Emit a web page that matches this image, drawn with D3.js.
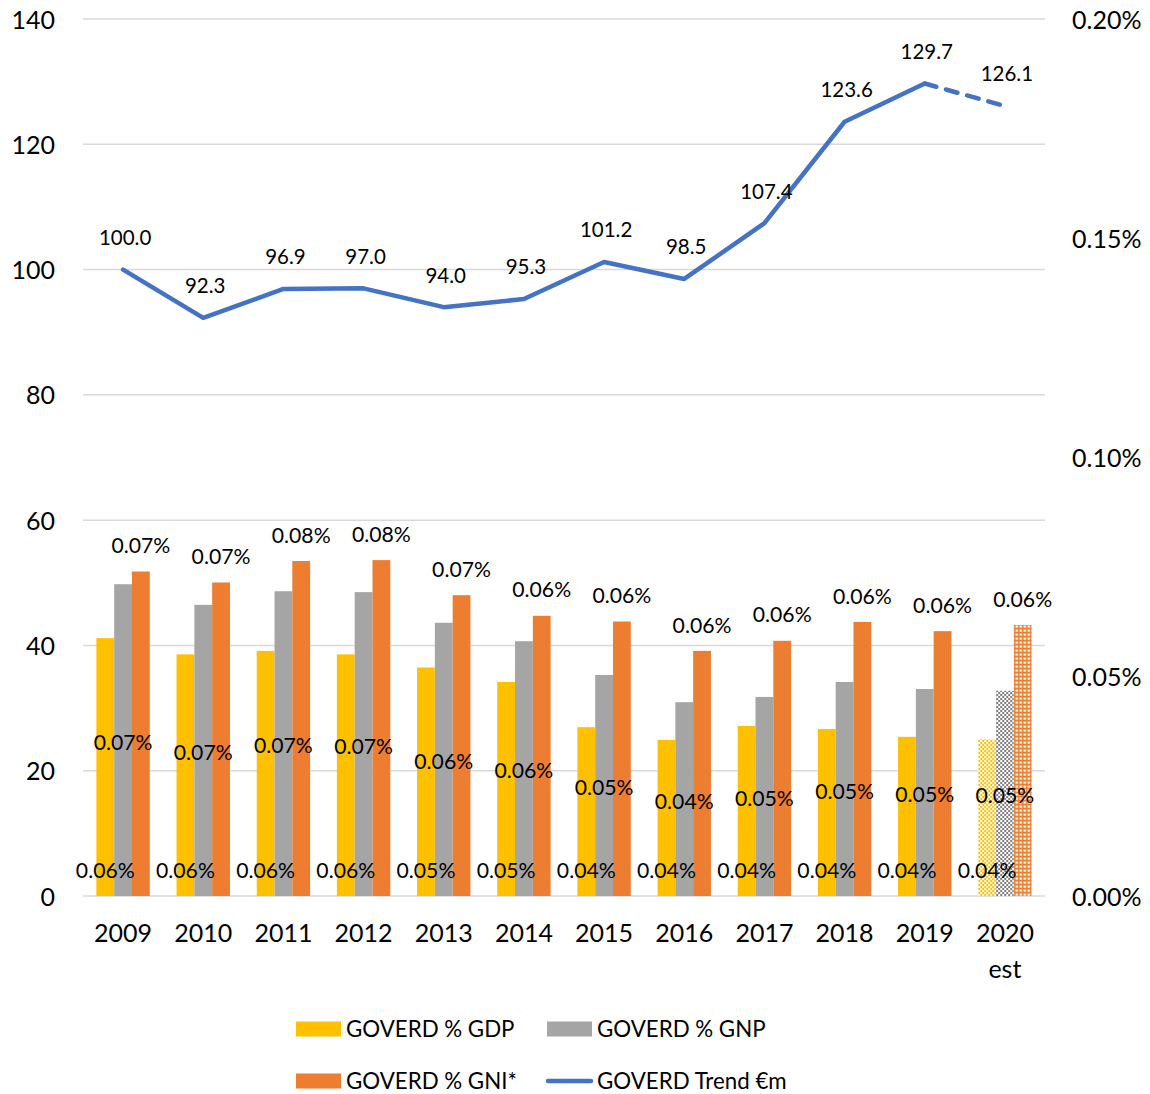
<!DOCTYPE html>
<html>
<head>
<meta charset="utf-8">
<script src="https://cdn.jsdelivr.net/npm/d3@7"></script>
<style>
  html, body { margin: 0; padding: 0; background: #fff; }
  svg { display: block; font-family: Lato, "Open Sans", sans-serif; }
</style>
</head>
<body>
<svg id="chart" width="1150" height="1094"></svg>
<script>
// ---- data ----
const categories = ["2009","2010","2011","2012","2013","2014","2015","2016","2017","2018","2019","2020 est"];
const gdpPct = [0.0588,0.0551,0.0559,0.0551,0.0521,0.0488,0.0385,0.0356,0.0388,0.0381,0.0363,0.0357];
const gnpPct = [0.0711,0.0664,0.0695,0.0693,0.0623,0.0581,0.0504,0.0442,0.0454,0.0488,0.0472,0.0468];
const gniPct = [0.0740,0.0715,0.0764,0.0766,0.0686,0.0639,0.0626,0.0559,0.0582,0.0625,0.0604,0.0618];
const trend  = [100.0,92.3,96.9,97.0,94.0,95.3,101.2,98.5,107.4,123.6,129.7,126.1];
const leftTicks  = [0,20,40,60,80,100,120,140];
const rightTicks = [0,0.05,0.10,0.15,0.20];
const seriesNames = ["GOVERD % GDP","GOVERD % GNP","GOVERD % GNI*"];
const seriesColors = ["#FFC000","#A5A5A5","#ED7D31"];
const lineName = "GOVERD Trend \u20ACm";
const lineColor = "#4472C4";
const estimateIndex = 11;

// ---- layout ----
const svg = d3.select("#chart");
const plot = {left: 83, right: 1045, top: 19, bottom: 896};
const FS_AXIS = 25, FS_LABEL = 21.2, FS_LINE = 20.5, FS_LEGEND = 22.3;

const x = d3.scaleBand().domain(categories).range([plot.left, plot.right])
  .paddingInner(0.334).paddingOuter(0.167);
const xs = d3.scaleBand().domain([0,1,2]).range([0, x.bandwidth()]);
const yL = d3.scaleLinear().domain([0,140]).range([plot.bottom, plot.top]);
const yR = d3.scaleLinear().domain([0,0.20]).range([plot.bottom, plot.top]);

// patterns for estimate bars
const defs = svg.append("defs");
function checker(id, color) {
  const p = defs.append("pattern").attr("id", id).attr("patternUnits","userSpaceOnUse")
    .attr("width",4).attr("height",4);
  p.append("rect").attr("width",4).attr("height",4).attr("fill","#fff");
  p.append("rect").attr("x",0).attr("y",0).attr("width",2).attr("height",2).attr("fill",color);
  p.append("rect").attr("x",2).attr("y",2).attr("width",2).attr("height",2).attr("fill",color);
}
checker("pat0", "#FFC000");
checker("pat1", "#7F7F7F");
(function(){
  const p = defs.append("pattern").attr("id","pat2").attr("patternUnits","userSpaceOnUse")
    .attr("width",4).attr("height",4);
  p.append("rect").attr("width",4).attr("height",4).attr("fill","#ED7D31");
  p.append("rect").attr("x",1.5).attr("y",1.5).attr("width",2.2).attr("height",2.2).attr("fill","#fff");
})();

// gridlines
svg.append("g").selectAll("line").data(leftTicks).join("line")
  .attr("x1", plot.left).attr("x2", plot.right)
  .attr("y1", d => yL(d)).attr("y2", d => yL(d))
  .attr("stroke", "#D9D9D9").attr("stroke-width", 1.5);

// axes
const axL = svg.append("g").attr("transform", `translate(55,0)`)
  .call(d3.axisLeft(yL).tickValues(leftTicks).tickSize(0).tickPadding(0));
const axR = svg.append("g").attr("transform", `translate(1072,0)`)
  .call(d3.axisRight(yR).tickValues(rightTicks).tickSize(0).tickPadding(0)
    .tickFormat(d => d.toFixed(2) + "%"));
const axB = svg.append("g").attr("transform", `translate(0,${plot.bottom})`)
  .call(d3.axisBottom(x).tickSize(0).tickPadding(0).tickFormat(() => ""));
[axL, axR, axB].forEach(a => {
  a.select(".domain").remove();
  a.selectAll("text").attr("font-size", FS_AXIS).attr("font-family", "Lato").attr("fill", "#000");
});
axL.selectAll("text").attr("dy", null).attr("y", FS_AXIS * 0.36);
axR.selectAll("text").attr("dy", null).attr("y", FS_AXIS * 0.36);
axB.selectAll(".tick text").each(function(d) {
  const parts = d.split(" ");
  const t = d3.select(this).attr("dy", null).attr("y", 0);
  parts.forEach((p, i) => {
    t.append("tspan").attr("x", 0).attr("y", 37 + FS_AXIS * 0.36 + i * 36).text(p);
  });
});

// bars
const series = [gdpPct, gnpPct, gniPct];
const rows = categories.map((c, i) => ({cat: c, i, vals: series.map(s => s[i])}));
const groups = svg.append("g").selectAll("g").data(rows).join("g")
  .attr("transform", d => `translate(${x(d.cat)},0)`);
groups.selectAll("rect").data(d => d.vals.map((v, k) => ({v, k, est: d.i === estimateIndex})))
  .join("rect")
  .attr("x", d => xs(d.k)).attr("width", xs.bandwidth())
  .attr("y", d => yR(d.v)).attr("height", d => yR(0) - yR(d.v))
  .attr("fill", d => d.est ? `url(#pat${d.k})` : seriesColors[d.k]);

// bar labels
const fmtPct = v => v.toFixed(2) + "%";
groups.selectAll("text").data(d => d.vals.map((v, k) => ({v, k})))
  .join("text")
  .attr("x", d => xs(d.k) + xs.bandwidth() / 2)
  .attr("y", d => {
    let c;
    if (d.k === 0) c = yR(0) - 26;
    else if (d.k === 1) c = (yR(0) + yR(d.v)) / 2 + 2;
    else c = yR(d.v) - 26;
    return c + FS_LABEL * 0.36;
  })
  .attr("text-anchor", "middle").attr("font-size", FS_LABEL).attr("fill", "#000")
  .text(d => fmtPct(d.v));

// trend line
const cx = c => x(c) + x.bandwidth() / 2;
const pts = categories.map((c, i) => [cx(c), yL(trend[i])]);
const line = d3.line();
svg.append("path").attr("d", line(pts.slice(0, estimateIndex)))
  .attr("fill", "none").attr("stroke", lineColor).attr("stroke-width", 4.5)
  .attr("stroke-linejoin", "round").attr("stroke-linecap", "round");
svg.append("path").attr("d", line(pts.slice(estimateIndex - 1)))
  .attr("fill", "none").attr("stroke", lineColor).attr("stroke-width", 4.5)
  .attr("stroke-linecap", "round").attr("stroke-dasharray", "12,10");

// trend labels
svg.append("g").selectAll("text").data(categories).join("text")
  .attr("x", (c, i) => cx(c) + 2)
  .attr("y", (c, i) => yL(trend[i]) - 32 + FS_LINE * 0.36)
  .attr("text-anchor", "middle").attr("font-size", FS_LINE).attr("fill", "#000")
  .text((c, i) => trend[i].toFixed(1));

// legend
const legend = svg.append("g");
const legItems = [
  {name: seriesNames[0], color: seriesColors[0], type: "rect", x: 296, y: 1029},
  {name: seriesNames[1], color: seriesColors[1], type: "rect", x: 547, y: 1029},
  {name: seriesNames[2], color: seriesColors[2], type: "rect", x: 296, y: 1081},
  {name: lineName, color: lineColor, type: "line", x: 547, y: 1081}
];
legItems.forEach(it => {
  if (it.type === "rect") {
    legend.append("rect").attr("x", it.x).attr("y", it.y - 7.5).attr("width", 45).attr("height", 15).attr("fill", it.color);
  } else {
    legend.append("line").attr("x1", it.x + 1).attr("x2", it.x + 44).attr("y1", it.y).attr("y2", it.y)
      .attr("stroke", it.color).attr("stroke-width", 4.5).attr("stroke-linecap", "round");
  }
  legend.append("text").attr("x", it.x + 50).attr("y", it.y + FS_LEGEND * 0.36)
    .attr("font-size", FS_LEGEND).attr("fill", "#000").text(it.name);
});
</script>
</body>
</html>
